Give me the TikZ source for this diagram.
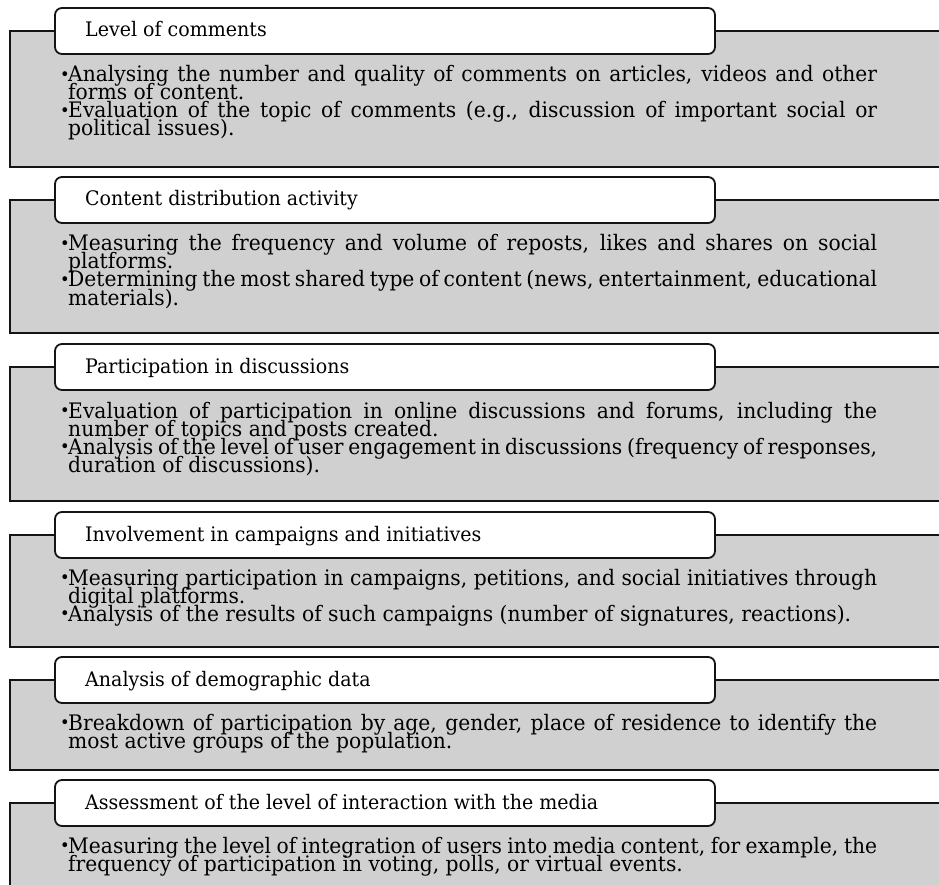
\documentclass[tikz,border=0pt]{standalone}
\usepackage{fontspec}
\usepackage{graphicx}
\setmainfont{DejaVu Serif}[FakeStretch=0.95]
\definecolor{panelgray}{RGB}{208,208,208}
\definecolor{edge}{RGB}{20,20,20}
\newlength\calw
\newlength\calh
\newlength\bodyw
\setlength\bodyw{815pt}
\AtBeginDocument{%
  \settowidth{\calw}{\fontsize{10pt}{12pt}\selectfont Analysis of the results of such campaigns (number of signatures, reactions).}%
  \settowidth{\calh}{\fontsize{10pt}{12pt}\selectfont Assessment of the level of interaction with the media}%
  \pgfmathsetmacro\fsx{10*783/\calw}%
  \pgfmathsetmacro\hsx{10*513/\calh}%
  \xdef\fs{\fsx}\xdef\hs{\hsx}}
\newcommand\bul{\makebox[6pt][l]{\kern-2pt\raisebox{1.3pt}{\scalebox{0.8}{•}}}}
\newcommand\jfirst[1]{\hbox to\bodyw{\bul #1}}
\newcommand\lfirst[1]{\hbox to\bodyw{\bul #1\hfil}}
\newcommand\jcont[1]{\hbox to\bodyw{\kern6pt #1}}
\newcommand\lcont[1]{\hbox to\bodyw{\kern6pt #1\hfil}}
\newcommand\bodylines[1]{\vtop{\baselineskip=18pt\lineskiplimit=-100pt\lineskip=0pt #1}}
\tikzset{
  graybox/.style={draw=edge, fill=panelgray, line width=1.4pt},
  headbox/.style={draw=edge, fill=white, line width=1.8pt, rounded corners=7pt},
  headtext/.style={anchor=base west, inner sep=0pt, font=\fontsize{\hs}{18}\selectfont, text=black},
  bodytext/.style={anchor=base west, inner sep=0pt, font=\fontsize{\fs}{18}\selectfont, text=black},
}
\newcommand\panelbox[6]{%
  \draw[graybox] (10,#2+23) rectangle (950,#3);
  \draw[headbox] (55,#2) rectangle (715,#2+46);
  \node[headtext] (#1h) at (85,#2+29) {#4};
  \node[bodytext] (#1b) at (62,#5) {\bodylines{#6}};
}
\begin{document}
\begin{tikzpicture}[x=1pt,y=-1pt]
\useasboundingbox (0,0) rectangle (939,885);
\fill[white] (0,0) rectangle (939,885);

\panelbox{p1}{8}{167}{Level of comments}{82}{%
  \jfirst{Analysing the number and quality of comments on articles, videos and other}
  \lcont{forms of content.}
  \jfirst{Evaluation of the topic of comments (e.g., discussion of important social or}
  \lcont{political issues).}}

\panelbox{p2}{177}{333}{Content distribution activity}{251}{%
  \jfirst{Measuring the frequency and volume of reposts, likes and shares on social}
  \lcont{platforms.}
  \jfirst{Determining the most shared type of content (news, entertainment, educational}
  \lcont{materials).}}

\panelbox{p3}{344}{501}{Participation in discussions}{418}{%
  \jfirst{Evaluation of participation in online discussions and forums, including the}
  \lcont{number of topics and posts created.}
  \jfirst{Analysis of the level of user engagement in discussions (frequency of responses,}
  \lcont{duration of discussions).}}

\panelbox{p4}{512}{647}{Involvement in campaigns and initiatives}{585}{%
  \jfirst{Measuring participation in campaigns, petitions, and social initiatives through}
  \lcont{digital platforms.}
  \lfirst{Analysis of the results of such campaigns (number of signatures, reactions).}}

\panelbox{p5}{657}{770}{Analysis of demographic data}{730}{%
  \jfirst{Breakdown of participation by age, gender, place of residence to identify the}
  \lcont{most active groups of the population.}}

\panelbox{p6}{780}{900}{Assessment of the level of interaction with the media}{853}{%
  \jfirst{Measuring the level of integration of users into media content, for example, the}
  \lcont{frequency of participation in voting, polls, or virtual events.}}
\end{tikzpicture}
\end{document}
